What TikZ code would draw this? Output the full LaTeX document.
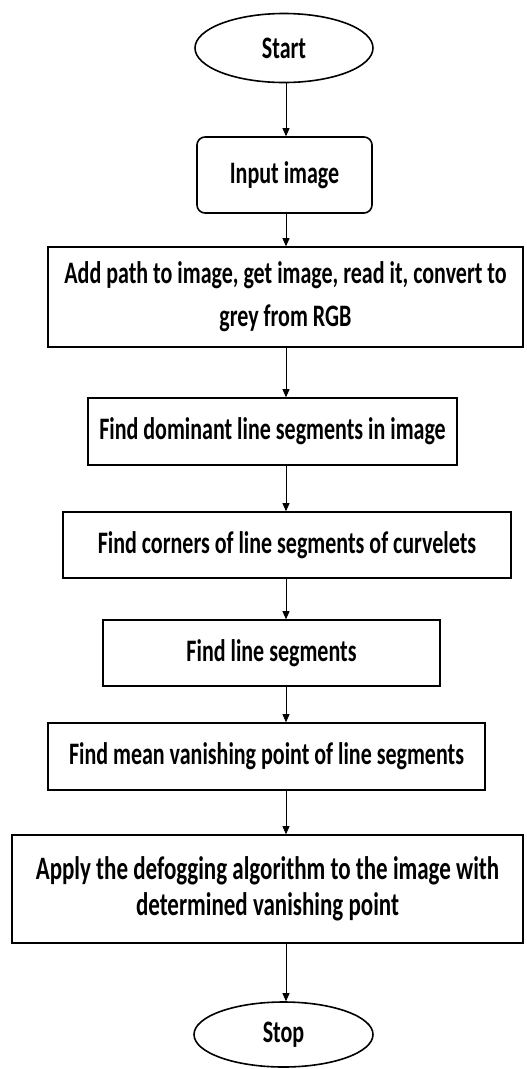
\documentclass[tikz,border=0pt]{standalone}
\usepackage{fontspec}
\setmainfont{Carlito}
\usetikzlibrary{shapes.geometric,arrows.meta}
\newcommand\vst[1]{\scalebox{1}[1.42]{#1}}
\begin{document}
\begin{tikzpicture}[x=1pt,y=-1pt,
  box/.style={draw, line width=1.6pt, inner sep=0pt, font=\fontsize{22}{43}\selectfont\bfseries, align=center},
  oval/.style={box, ellipse},
  arr/.style={line width=0.8pt, -{Triangle[length=8pt,width=7pt]}}]
\useasboundingbox (0,0) rectangle (527,1069);
\coordinate (ax) at (286,0);
\node[oval, minimum width=178pt, minimum height=69pt] (start) at (284,48) {\vst{Start}};
\node[box, rounded corners=8pt, minimum width=175pt, minimum height=76pt] (input) at (284.5,175) {\vst{Input image}};
\node[box, minimum width=475pt, minimum height=100pt] (add) at (285.5,297) {\vst{Add path to image, get image, read it, convert to}\\\vst{grey from RGB}};
\node[box, minimum width=369pt, minimum height=67pt] (dom) at (272.5,431.5) {\vst{Find dominant line segments in image}};
\node[box, minimum width=448pt, minimum height=66pt] (corn) at (287,545) {\vst{Find corners of line segments of curvelets}};
\node[box, minimum width=337pt, minimum height=66pt] (seg) at (271.5,653) {\vst{Find line segments}};
\node[box, minimum width=437pt, minimum height=67pt] (mean) at (266.5,756.5) {\vst{Find mean vanishing point of line segments}};
\node[box, minimum width=511pt, minimum height=108pt, font=\fontsize{23}{36}\selectfont\bfseries] (apply) at (267.5,889) {\vst{Apply the defogging algorithm to the image with}\\\vst{determined vanishing point}};
\node[oval, minimum width=179pt, minimum height=65pt] (stop) at (283.5,1034.5) {\vst{Stop}};
\draw[arr] (start.south -| ax) -- (input.north -| ax);
\draw[arr] (input.south -| ax) -- (add.north -| ax);
\draw[arr] (add.south -| ax) -- (dom.north -| ax);
\draw[arr] (dom.south -| ax) -- (corn.north -| ax);
\draw[arr] (corn.south -| ax) -- (seg.north -| ax);
\draw[arr] (seg.south -| ax) -- (mean.north -| ax);
\draw[arr] (mean.south -| ax) -- (apply.north -| ax);
\draw[arr] (apply.south -| ax) -- (stop.north -| ax);
\end{tikzpicture}
\end{document}
